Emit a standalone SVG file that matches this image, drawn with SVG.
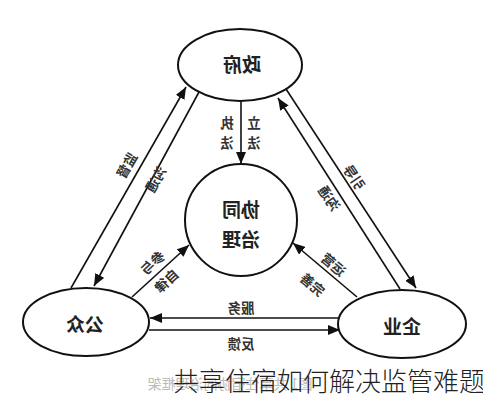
<svg xmlns="http://www.w3.org/2000/svg" width="483" height="400" viewBox="0 0 483 400">
<defs>
<style>
.node{fill:#fff;stroke:#111;stroke-width:2}
.edge{fill:none;stroke:#111;stroke-width:1.6}
.nt{font-family:"Noto Sans CJK SC","Noto Sans",sans-serif;font-size:19px;font-weight:bold;fill:#222;text-anchor:middle;dominant-baseline:central}
.lb{font-family:"Noto Sans CJK SC","Noto Sans",sans-serif;font-size:13.5px;font-weight:bold;fill:#333;text-anchor:middle;dominant-baseline:central}
.cap{font-family:"Noto Sans CJK SC","Noto Sans",sans-serif;font-size:14px;fill:#bbb;text-anchor:middle;dominant-baseline:central}
.title{font-family:"Noto Sans CJK SC","Noto Sans",sans-serif;font-size:26px;font-weight:300;fill:#222}
</style>
<marker id="ah" viewBox="0 0 12 10" refX="12" refY="5" markerWidth="12" markerHeight="10" markerUnits="userSpaceOnUse" orient="auto">
<path d="M0,0 L12,5 L0,10 z" fill="#111"/>
</marker>
</defs>
<rect width="483" height="400" fill="#fff"/>

<g id="connectors">
<line class="edge" x1="241" y1="101" x2="241" y2="164" marker-end="url(#ah)"/>
<line class="edge" x1="71" y1="288" x2="186" y2="87" marker-end="url(#ah)"/>
<line class="edge" x1="199" y1="92" x2="94" y2="286" marker-end="url(#ah)"/>
<line class="edge" x1="286" y1="89" x2="416" y2="288" marker-end="url(#ah)"/>
<line class="edge" x1="400" y1="289" x2="278" y2="98" marker-end="url(#ah)"/>
<line class="edge" x1="132" y1="297" x2="189" y2="245" marker-end="url(#ah)"/>
<line class="edge" x1="357" y1="297" x2="293" y2="243" marker-end="url(#ah)"/>
<line class="edge" x1="339" y1="318" x2="150" y2="318" marker-end="url(#ah)"/>
<line class="edge" x1="149" y1="330" x2="340" y2="330" marker-end="url(#ah)"/>
</g>

<g id="labels">
<text class="lb" transform="translate(227,122) scale(-1,1)">执</text>
<text class="lb" transform="translate(227,142) scale(-1,1)">法</text>
<text class="lb" transform="translate(254,122) scale(-1,1)">立</text>
<text class="lb" transform="translate(254,142) scale(-1,1)">法</text>
<text class="lb" transform="translate(126,165) scale(-1,1) rotate(60)">监督</text>
<text class="lb" transform="translate(155,179) scale(-1,1) rotate(60)">沟通</text>
<text class="lb" transform="translate(355,177) scale(-1,1) rotate(-56)">引导</text>
<text class="lb" transform="translate(330,198) scale(-1,1) rotate(-56)">沟通</text>
<text class="lb" transform="translate(152,262) scale(-1,1) rotate(43)">参与</text>
<text class="lb" transform="translate(166,280) scale(-1,1) rotate(43)">自律</text>
<text class="lb" transform="translate(334,264) scale(-1,1) rotate(-40)">运营</text>
<text class="lb" transform="translate(313,284) scale(-1,1) rotate(-40)">完善</text>
<text class="lb" transform="translate(241,307) scale(-1,1)">服务</text>
<text class="lb" transform="translate(241,343) scale(-1,1)">反馈</text>
</g>

<g id="zhengfu">
<ellipse class="node" cx="240" cy="65" rx="62" ry="36"/>
<text class="nt" transform="translate(242,63) scale(-1,1)">政府</text>
</g>
<g id="xietong">
<circle class="node" cx="241" cy="220" r="56"/>
<text class="nt" transform="translate(241,208) scale(-1,1)">协同</text>
<text class="nt" transform="translate(241,238) scale(-1,1)">治理</text>
</g>
<g id="gongzhong">
<ellipse class="node" cx="86" cy="322" rx="63" ry="34"/>
<text class="nt" transform="translate(85,323) scale(-1,1)">公众</text>
</g>
<g id="qiye">
<ellipse class="node" cx="402" cy="324" rx="64" ry="34"/>
<text class="nt" transform="translate(402,325) scale(-1,1)">企业</text>
</g>

<text class="cap" transform="translate(230,383) scale(-1,1)">图1 共享住宿协同治理框架</text>
<text class="title" x="173" y="391">共享住宿如何解决监管难题</text>
</svg>
